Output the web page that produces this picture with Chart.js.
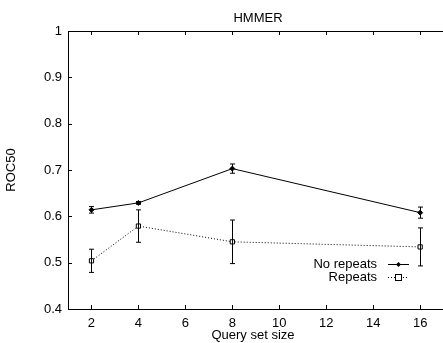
<!DOCTYPE html>
<html>
<head>
<meta charset="utf-8">
<script src="https://cdn.jsdelivr.net/npm/chart.js@4/dist/chart.umd.min.js"></script>
<style>
  html, body { margin: 0; padding: 0; background: #fff; }
  #hmmerChart { display: block; }
</style>
</head>
<body>
<canvas id="hmmerChart" width="443" height="343"></canvas>
<script>
// values
const querySizes = [2, 4, 8, 16];
const noRepeats = [0.614, 0.629, 0.703, 0.608];
const noRepeatsErr = [0.007, 0.003, 0.010, 0.012];
const repeats = [0.504, 0.579, 0.545, 0.534];
const repeatsErr = [0.025, 0.035, 0.047, 0.041];
const xTicks = [2, 4, 6, 8, 10, 12, 14, 16];
const yTicks = [0.4, 0.5, 0.6, 0.7, 0.8, 0.9, 1];
const chartTitle = 'HMMER';

const FONT = 'Liberation Sans, Arial, sans-serif';
const FSIZE = 13;

function points(ys) {
    return querySizes.map((x, i) => ({ x: x, y: ys[i] }));
}

// gnuplot-like frame, inward ticks, error bars, title and key
const gnuplotBits = {
    id: 'gnuplotBits',
    afterDatasetsDraw(chart) {
        const ctx = chart.ctx;
        const xs = chart.scales.x, ys = chart.scales.y;
        const a = chart.chartArea;
        ctx.save();
        ctx.strokeStyle = '#000';
        ctx.lineWidth = 1;
        ctx.setLineDash([]);

        // frame
        ctx.beginPath();
        ctx.moveTo(a.right + 5, a.top + 0.5);
        ctx.lineTo(a.left + 0.5, a.top + 0.5);
        ctx.lineTo(a.left + 0.5, a.bottom + 0.5);
        ctx.lineTo(a.right + 5, a.bottom + 0.5);
        ctx.stroke();

        // ticks
        ctx.beginPath();
        xTicks.forEach(v => {
            const px = Math.round(xs.getPixelForValue(v)) + 0.5;
            ctx.moveTo(px, a.bottom); ctx.lineTo(px, a.bottom - 4);
            ctx.moveTo(px, a.top); ctx.lineTo(px, a.top + 4);
        });
        yTicks.forEach(v => {
            const py = Math.round(ys.getPixelForValue(v)) + 0.5;
            ctx.moveTo(a.left, py); ctx.lineTo(a.left + 4, py);
        });
        ctx.stroke();

        // error bars
        const errs = [noRepeatsErr, repeatsErr];
        const vals = [noRepeats, repeats];
        ctx.beginPath();
        errs.forEach((err, d) => {
            querySizes.forEach((q, i) => {
                const px = Math.round(xs.getPixelForValue(q)) + 0.5;
                const hi = ys.getPixelForValue(vals[d][i] + err[i]);
                const lo = ys.getPixelForValue(vals[d][i] - err[i]);
                ctx.moveTo(px, hi); ctx.lineTo(px, lo);
                ctx.moveTo(px - 2.5, hi); ctx.lineTo(px + 2.5, hi);
                ctx.moveTo(px - 2.5, lo); ctx.lineTo(px + 2.5, lo);
            });
        });
        ctx.stroke();

        ctx.font = FSIZE + 'px ' + FONT;
        ctx.fillStyle = '#000';
        ctx.textBaseline = 'middle';

        // title, centred over the (wider than canvas) plot box like gnuplot
        ctx.textAlign = 'center';
        ctx.fillText(chartTitle, 258, 18);

        // key
        const keyY = [264, 277];
        ctx.textAlign = 'right';
        chart.data.datasets.forEach((ds, i) => {
            const y = keyY[i] + 0.5;
            ctx.fillText(ds.label, 377, y);
            ctx.setLineDash(ds.borderDash || []);
            ctx.beginPath();
            ctx.moveTo(388, y); ctx.lineTo(409, y);
            ctx.stroke();
            ctx.setLineDash([]);
            if (ds.pointStyle === 'rectRot') {
                ctx.beginPath();
                ctx.moveTo(398.5, y - 2.5); ctx.lineTo(401, y);
                ctx.lineTo(398.5, y + 2.5); ctx.lineTo(396, y);
                ctx.closePath();
                ctx.fill();
            } else {
                ctx.fillStyle = '#fff';
                ctx.fillRect(395.5, y - 3, 6, 6);
                ctx.strokeRect(395.5, y - 3, 6, 6);
                ctx.fillStyle = '#000';
            }
        });
        ctx.restore();
    }
};

const config = {
    type: 'line',
    data: {
        datasets: [
            {
                label: 'No repeats',
                data: points(noRepeats),
                borderColor: '#000',
                borderWidth: 1,
                pointStyle: 'rectRot',
                pointRadius: 2.5,
                pointBackgroundColor: '#000',
                pointBorderColor: '#000',
                pointBorderWidth: 1,
                fill: false,
                tension: 0
            },
            {
                label: 'Repeats',
                data: points(repeats),
                borderColor: '#000',
                borderWidth: 1,
                borderDash: [1, 2],
                pointStyle: 'rect',
                pointRadius: 3,
                pointBackgroundColor: '#fff',
                pointBorderColor: '#000',
                pointBorderWidth: 1,
                fill: false,
                tension: 0
            }
        ]
    },
    options: {
        responsive: false,
        animation: false,
        layout: { padding: { left: 0, right: 0, top: 31, bottom: 0 } },
        plugins: {
            legend: { display: false },
            tooltip: { enabled: false },
            title: { display: false }
        },
        scales: {
            x: {
                type: 'linear',
                min: 1,
                max: 16.76,
                afterFit: s => { s.height = 34; },
                afterBuildTicks: s => { s.ticks = xTicks.map(v => ({ value: v })); },
                grid: { display: false, drawTicks: false },
                border: { display: false },
                ticks: {
                    color: '#000',
                    padding: 7,
                    maxRotation: 0,
                    autoSkip: false,
                    font: { family: FONT, size: FSIZE }
                },
                title: {
                    display: true,
                    text: 'Query set size',
                    color: '#000',
                    font: { family: FONT, size: FSIZE },
                    padding: { top: 0, bottom: 0 }
                }
            },
            y: {
                min: 0.4,
                max: 1,
                afterFit: s => { s.width = 68; },
                afterBuildTicks: s => { s.ticks = yTicks.map(v => ({ value: v })); },
                grid: { display: false, drawTicks: false },
                border: { display: false },
                ticks: {
                    color: '#000',
                    padding: 6,
                    font: { family: FONT, size: FSIZE },
                    callback: v => String(+v.toFixed(1))
                },
                title: {
                    display: true,
                    text: 'ROC50',
                    color: '#000',
                    font: { family: FONT, size: FSIZE },
                    padding: { top: 4, bottom: 0 }
                }
            }
        }
    },
    plugins: [gnuplotBits]
};

const canvas = document.getElementById('hmmerChart');
const hmmerChart = new Chart(canvas, config);
</script>
</body>
</html>
